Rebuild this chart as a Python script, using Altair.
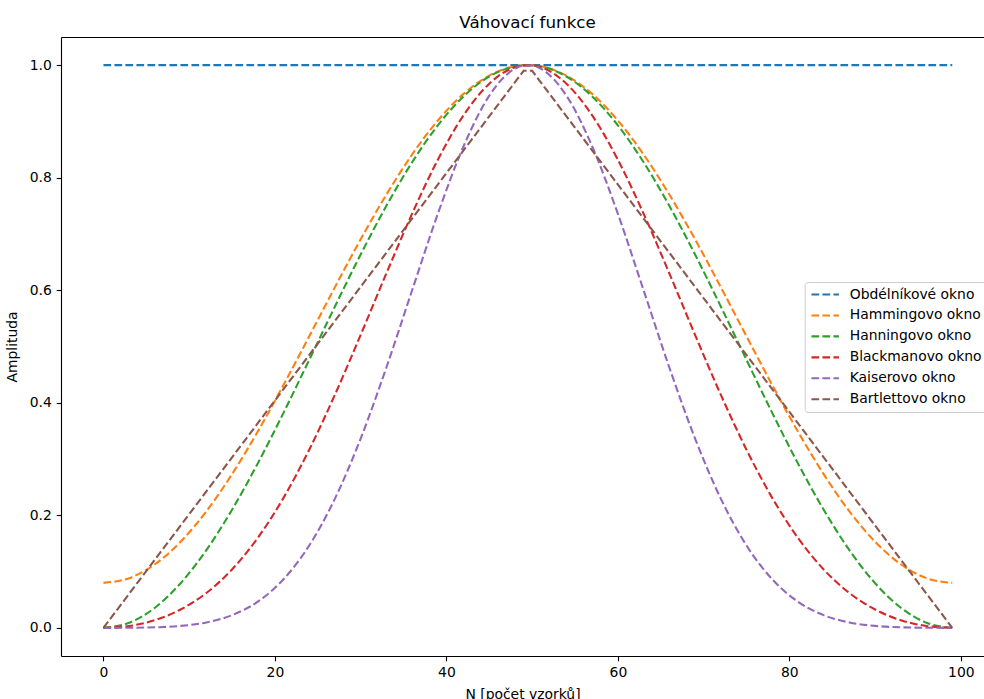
import altair as alt
import pandas as pd

series_names = ["Obdélníkové okno", "Hammingovo okno", "Hanningovo okno",
                "Blackmanovo okno", "Kaiserovo okno", "Bartlettovo okno"]
colors = ["#1f77b4", "#ff7f0e", "#2ca02c", "#d62728", "#9467bd", "#8c564b"]

# sample positions
n_smooth = [0, 3, 6, 9, 12, 15, 18, 21, 24, 27, 30, 33, 36, 39, 42, 45, 48, 49,
            50, 51, 54, 57, 60, 63, 66, 69, 72, 75, 78, 81, 84, 87, 90, 93, 96, 99]

hamming = [0.0800, 0.0883, 0.1130, 0.1530, 0.2071, 0.2732, 0.3489, 0.4316, 0.5181,
           0.6055, 0.6905, 0.7700, 0.8412, 0.9016, 0.9489, 0.9814, 0.9979, 0.9998,
           0.9998, 0.9979, 0.9814, 0.9489, 0.9016, 0.8412, 0.7700, 0.6905, 0.6055,
           0.5181, 0.4316, 0.3489, 0.2732, 0.2071, 0.1530, 0.1130, 0.0883, 0.0800]

hanning = [0.0000, 0.0090, 0.0358, 0.0794, 0.1381, 0.2100, 0.2923, 0.3821, 0.4762,
           0.5712, 0.6635, 0.7500, 0.8274, 0.8930, 0.9444, 0.9798, 0.9977, 0.9998,
           0.9998, 0.9977, 0.9798, 0.9444, 0.8930, 0.8274, 0.7500, 0.6635, 0.5712,
           0.4762, 0.3821, 0.2923, 0.2100, 0.1381, 0.0794, 0.0358, 0.0090, 0.0000]

blackman = [0.0000, 0.0033, 0.0137, 0.0326, 0.0619, 0.1038, 0.1599, 0.2310, 0.3166,
            0.4144, 0.5207, 0.6300, 0.7360, 0.8319, 0.9108, 0.9670, 0.9963, 0.9996,
            0.9996, 0.9963, 0.9670, 0.9108, 0.8319, 0.7360, 0.6300, 0.5207, 0.4144,
            0.3166, 0.2310, 0.1599, 0.1038, 0.0619, 0.0326, 0.0137, 0.0033, 0.0000]

kaiser = [0.0000, 0.0002, 0.0010, 0.0035, 0.0096, 0.0226, 0.0465, 0.0863, 0.1463,
          0.2297, 0.3365, 0.4627, 0.5999, 0.7358, 0.8558, 0.9457, 0.9938, 0.9993,
          0.9993, 0.9938, 0.9457, 0.8558, 0.7358, 0.5999, 0.4627, 0.3365, 0.2297,
          0.1463, 0.0863, 0.0465, 0.0226, 0.0096, 0.0035, 0.0010, 0.0002, 0.0000]

n_rect = [0, 99]
rect = [1.0, 1.0]

n_bartlett = [0, 49, 50, 99]
bartlett = [0.0, 0.9899, 0.9899, 0.0]

x_ticks = [0, 20, 40, 60, 80, 100]
y_ticks = [0.0, 0.2, 0.4, 0.6, 0.8, 1.0]

FONT = "DejaVu Sans"
LW = 2.08
dash = [7.7, 3.3]


def frame(name, xs, ys):
    return pd.DataFrame({"n": xs, "a": ys, "okno": [name] * len(xs)})


rect_df = frame(series_names[0], n_rect, rect)
smooth_df = pd.concat([
    frame(series_names[1], n_smooth, hamming),
    frame(series_names[2], n_smooth, hanning),
    frame(series_names[3], n_smooth, blackman),
    frame(series_names[4], n_smooth, kaiser),
], ignore_index=True)
bart_df = frame(series_names[5], n_bartlett, bartlett)

x_scale = alt.Scale(domain=[-4.95, 102.7], nice=False, zero=False)
y_scale = alt.Scale(domain=[-0.05, 1.05], nice=False, zero=False)

x_enc = alt.X("n:Q", scale=x_scale,
              axis=alt.Axis(values=x_ticks, format="d", title="N [počet vzorků]",
                            grid=False, titlePadding=7.5))
y_enc = alt.Y("a:Q", scale=y_scale,
              axis=alt.Axis(values=y_ticks, format=".1f", title="Amplituda",
                            grid=False, titlePadding=9.5))

legend = alt.Legend(
    title=None, orient="none", legendX=743.7, legendY=245,
    symbolType="stroke", symbolSize=756, symbolStrokeWidth=LW,
    symbolDash=dash, clipHeight=14, rowPadding=6.95,
    padding=5.5, labelOffset=9.5, labelFont=FONT, labelFontSize=13.9,
    labelColor="black", labelLimit=400,
    fillColor="rgba(255,255,255,0.8)", strokeColor="#cccccc", cornerRadius=3,
)
color_enc = alt.Color("okno:N", scale=alt.Scale(domain=series_names, range=colors),
                      legend=legend, sort=series_names)

rect_layer = alt.Chart(rect_df).mark_line(strokeWidth=LW, strokeDash=dash).encode(
    x=x_enc, y=y_enc, color=color_enc)
smooth_layer = alt.Chart(smooth_df).mark_line(
    strokeWidth=LW, strokeDash=dash, interpolate="monotone").encode(
    x=x_enc, y=y_enc, color=color_enc, detail="okno:N")
bart_layer = alt.Chart(bart_df).mark_line(strokeWidth=LW, strokeDash=dash).encode(
    x=x_enc, y=y_enc, color=color_enc)

data_layers = alt.layer(rect_layer, smooth_layer, bart_layer)

# top spine
spine_layer = alt.Chart(rect_df).mark_line(opacity=0).encode(
    x=alt.X("n:Q", scale=x_scale,
            axis=alt.Axis(orient="top", labels=False, ticks=False, title=None,
                          grid=False, domain=True)),
    y=y_enc,
)

chart = alt.layer(data_layers, spine_layer).resolve_axis(
    x="independent"
).properties(
    width=923, height=619,
    autosize="none",
    padding={"left": 61, "top": 37, "right": 0, "bottom": 43},
    title=alt.TitleParams("Váhovací funkce", font=FONT, fontSize=16.7,
                          fontWeight="normal", color="black", dx=5, offset=5),
    background="white",
).configure_view(stroke=None).configure_axis(
    labelFont=FONT, labelFontSize=13.9, labelColor="black",
    titleFont=FONT, titleFontSize=13.9, titleColor="black", titleFontWeight="normal",
    tickColor="black", tickSize=4.86, tickWidth=1.11,
    domainColor="black", domainWidth=1.11, labelPadding=4.86,
)

chart.save("out.html", embed_options={"renderer": "svg", "actions": False})
